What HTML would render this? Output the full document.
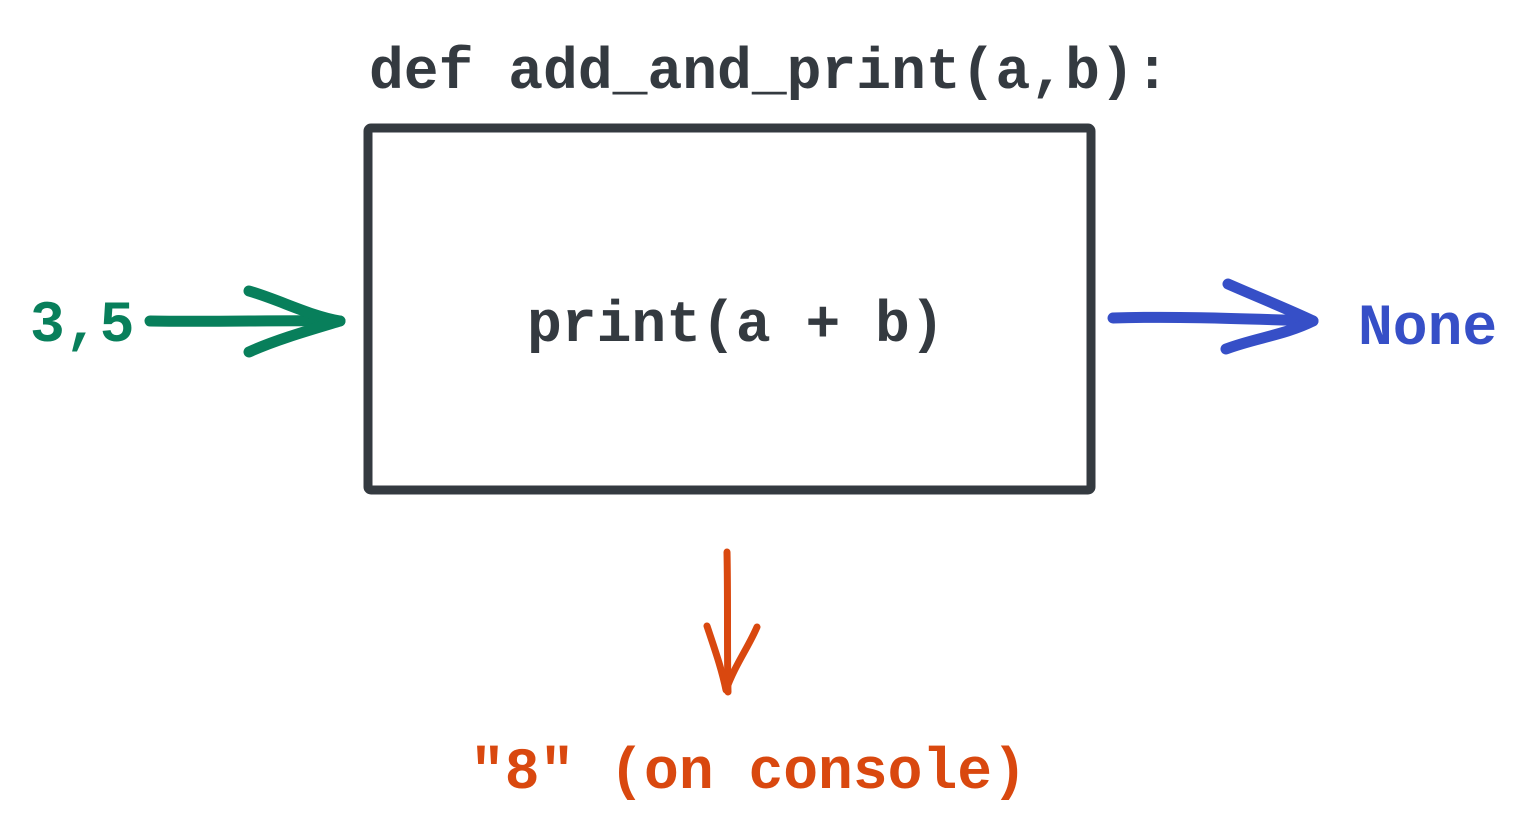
<!DOCTYPE html>
<html><head><meta charset="utf-8"><style>
html,body{margin:0;padding:0;background:#fff;width:1531px;height:832px;overflow:hidden}
svg{display:block}
text{font-family:"Liberation Mono","DejaVu Sans Mono",monospace;font-weight:bold;font-size:58px}
</style></head><body>
<svg width="1531" height="832" viewBox="0 0 1531 832" xmlns="http://www.w3.org/2000/svg">
<text x="369" y="88" fill="#343a40">def add_and_print(a,b):</text>
<rect x="368" y="128" width="723" height="362" rx="3" fill="none" stroke="#343a40" stroke-width="9" stroke-linejoin="round"/>
<text x="527" y="341" fill="#343a40">print(a + b)</text>
<text x="30" y="341" fill="#087f5b" font-size="56">3,5</text>
<g stroke="#087f5b" stroke-width="11" stroke-linecap="round" fill="none" stroke-linejoin="round">
<path d="M150 321 C220 322 280 320 340 321"/>
<path d="M249 291 C280 300 310 316 340 321 C310 330 275 340 249 352"/>
</g>
<g stroke="#364fc7" stroke-width="11" stroke-linecap="round" fill="none" stroke-linejoin="round">
<path d="M1113 318 C1180 316 1250 319 1313 321"/>
<path d="M1228 284 C1260 298 1290 310 1313 321 C1285 335 1255 338 1226 349"/>
</g>
<text x="1358" y="344" fill="#364fc7" font-size="57">None</text>
<g stroke="#d9480f" stroke-width="7" stroke-linecap="round" fill="none" stroke-linejoin="round">
<path d="M727 552 C728 600 727 650 728 692"/>
<path d="M707 626 C715 650 722 670 726 690 C735 665 748 648 757 627"/>
</g>
<text x="470" y="788" fill="#d9480f">"8" (on console)</text>
</svg>
</body></html>
